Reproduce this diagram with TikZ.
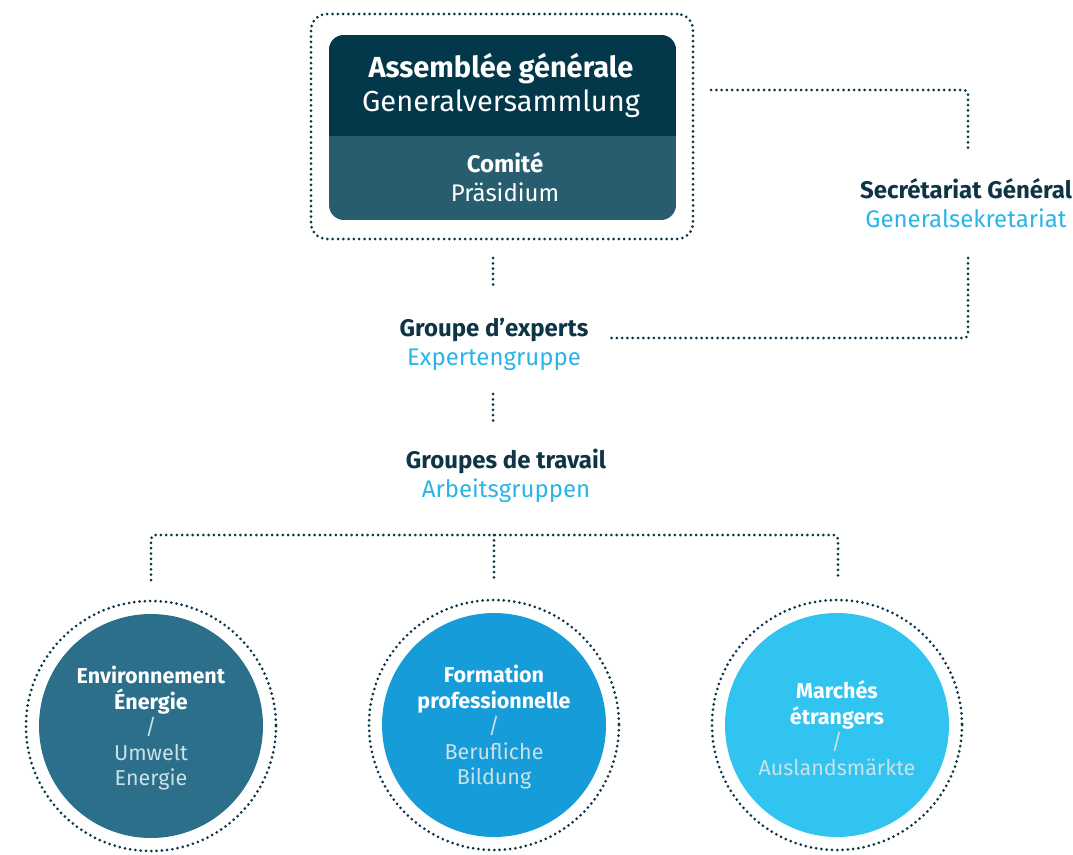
\documentclass[tikz,border=0pt]{standalone}
\usepackage{fontspec}
\setmainfont{Fira Sans}
\definecolor{navy}{HTML}{03374A}
\definecolor{teal}{HTML}{275D6E}
\definecolor{cone}{HTML}{2B6F8A}
\definecolor{ctwo}{HTML}{169CD8}
\definecolor{cthree}{HTML}{31C4F1}
\definecolor{txtdark}{HTML}{0D3545}
\definecolor{txtblue}{HTML}{2AB4E8}
\definecolor{dotc}{HTML}{0C3446}
\definecolor{paletxt}{HTML}{C9E1E9}
\tikzset{
  dots/.style={draw=dotc, line width=3pt, line cap=round, dash pattern=on 0pt off 5.3pt},
  conn/.style={dots, rounded corners=4pt},
  lbl/.style={align=center, inner sep=0pt, text=txtdark, font=\fontsize{24}{29}\selectfont},
  disc/.style={circle, minimum size=224pt, inner sep=0pt, draw=none},
  ctext/.style={align=center, inner sep=0pt, text=white, font=\fontsize{21.5}{25.5}\selectfont},
}
\newcommand{\bb}[1]{\textbf{#1}}
\newcommand{\pl}[1]{{\color{paletxt}#1}}
\newcommand{\bl}[1]{{\color{txtblue}#1}}
\begin{document}
\begin{tikzpicture}[x=1pt,y=-1pt]
\useasboundingbox (0,0) rectangle (1073,854);
% top box
\node[draw=none, rounded corners=15pt, minimum width=347pt, minimum height=185pt, inner sep=0pt] (ag) at (502.5,127.5) {};
\begin{scope}
  \clip[rounded corners=15pt] (329,35) rectangle (676,220);
  \fill[teal] (329,35) rectangle (676,220);
  \fill[navy] (329,35) rectangle (676,136);
\end{scope}
\node[dots, rounded corners=16pt, minimum width=382pt, minimum height=225pt, inner sep=0pt] (agout) at (502,126.5) {};
\node[lbl, text=white, font=\fontsize{29}{34}\selectfont] (agt) at (501,85.5) {\bb{Assemblée générale}\\ Generalversammlung};
\node[lbl, text=white] (com) at (505,177.5) {\bb{Comité}\\ Präsidium};
% secretariat
\node[lbl] (sg) at (966,203.5) {\bb{Secrétariat Général}\\ \bl{Generalsekretariat}};
% experts
\node[lbl] (ge) at (494,344) {\bb{Groupe d’experts}\\ \bl{Expertengruppe}};
% groupes de travail
\node[lbl] (gt) at (506,475.5) {\bb{Groupes de travail}\\ \bl{Arbeitsgruppen}};
% circles
\node[disc, fill=cone] (env) at (151,726) {};
\node[disc, fill=ctwo] (form) at (494,725) {};
\node[disc, fill=cthree] (mar) at (837,725) {};
\draw[dots] (env.center) circle (125);
\draw[dots] (form.center) circle (125);
\draw[dots] (mar.center) circle (125);
\node[ctext] at (env.center) [yshift=-2.5pt] {\bb{Environnement}\\ \bb{Énergie}\\ \pl{/}\\ \pl{Umwelt}\\ \pl{Energie}};
\node[ctext] at (form.center) [yshift=-2.5pt] {\bb{Formation}\\ \bb{professionnelle}\\ \pl{/}\\ \pl{Berufliche}\\ \pl{Bildung}};
\node[ctext] at (mar.center) [yshift=-3pt] {\bb{Marchés}\\ \bb{étrangers}\\ \pl{/}\\ \pl{Auslandsmärkte}};
% connector coordinates
\coordinate (c1) at (711,90);
\coordinate (c2) at (968,148);
\coordinate (c3) at (968,258);
\coordinate (c4) at (608,338);
\coordinate (v1) at (493,258);
\coordinate (v2) at (493,286);
\coordinate (v3) at (493,394);
\coordinate (v4) at (493,422);
\draw[conn] (c1) -| (c2);
\draw[conn] (c3) |- (c4);
\draw[dots] (v1) -- (v2);
\draw[dots] (v3) -- (v4);
\coordinate (b1) at (151,580);
\coordinate (b2) at (838,580);
\coordinate (bm) at (494,535);
\coordinate (bm2) at (494,580);
\draw[conn] (b1) |- (bm) -| (b2);
\draw[dots] (bm) -- (bm2);
\end{tikzpicture}
\end{document}
